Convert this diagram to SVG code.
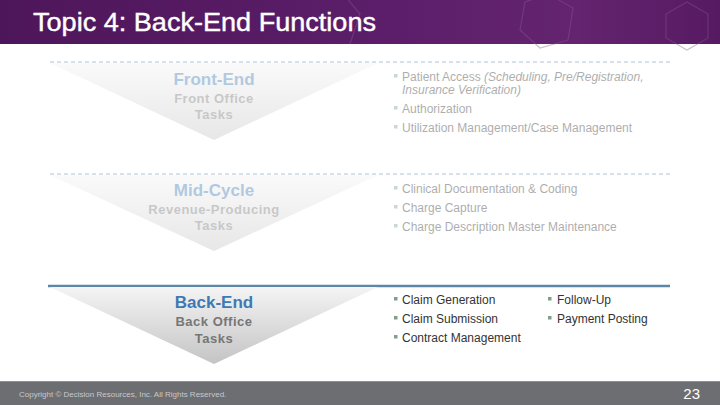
<svg xmlns="http://www.w3.org/2000/svg" width="720" height="405" viewBox="0 0 720 405">
<defs>
<linearGradient id="hdr" x1="0" y1="0" x2="1" y2="0">
<stop offset="0" stop-color="#4e165a"/>
<stop offset="0.55" stop-color="#5c1e6a"/>
<stop offset="0.8" stop-color="#64246f"/>
<stop offset="1" stop-color="#561a62"/>
</linearGradient>
<linearGradient id="tri" x1="0" y1="0" x2="0" y2="1">
<stop offset="0" stop-color="#f4f4f4"/>
<stop offset="1" stop-color="#c4c4c4"/>
</linearGradient>
<style>
.t{font-family:"Liberation Sans",Arial,sans-serif}
.hd{font-size:17px;font-weight:bold;fill:#3d7ab4;text-anchor:middle}
.sub{font-size:13px;font-weight:bold;fill:#767676;text-anchor:middle;letter-spacing:0.5px}
.b{font-size:12px;fill:#333333}
.bl{fill:#7f9f88}
.dash{stroke:#8fa8bd;stroke-width:1.5;stroke-dasharray:4 3}
.hex{fill:none;stroke:#8a5a96;stroke-width:1.2;opacity:0.4}
</style>
</defs>
<rect width="720" height="405" fill="#ffffff"/>
<g id="header">
<rect x="0" y="0" width="720" height="44" fill="url(#hdr)"/>
<polygon class="hex" points="687,2 708,14 708,38 687,50 666,38 666,14"/>
<polygon class="hex" points="548,-6 573,8 568,40 540,48 520,30 525,2"/>
<polyline class="hex" points="345,-4 360,14 350,44"/>
<text class="t" x="33" y="31" font-size="25" fill="#ffffff" stroke="#ffffff" stroke-width="0.4" textLength="343" lengthAdjust="spacingAndGlyphs">Topic 4: Back-End Functions</text>
</g>
<g id="connectors">
<line class="dash" x1="50" y1="62" x2="670" y2="62" opacity="0.45"/>
<line class="dash" x1="50" y1="174" x2="670" y2="174" opacity="0.45"/>
<line x1="48" y1="286" x2="670" y2="286" stroke="#5b87a8" stroke-width="2.5"/>
</g>
<g id="front-end" opacity="0.4">
<polygon points="50,63 378,63 214,140" fill="url(#tri)"/>
<text class="t hd" x="214" y="85">Front-End</text>
<text class="t sub" x="214" y="103">Front Office</text>
<text class="t sub" x="214" y="119">Tasks</text>
</g>
<g id="front-end-tasks" opacity="0.4">
<rect class="bl" x="394" y="74" width="3.5" height="3.5"/>
<text class="t b" x="402" y="81">Patient Access <tspan font-style="italic">(Scheduling, Pre/Registration,</tspan></text>
<text class="t b" x="402" y="94" font-style="italic">Insurance Verification)</text>
<rect class="bl" x="394" y="106" width="3.5" height="3.5"/>
<text class="t b" x="402" y="113">Authorization</text>
<rect class="bl" x="394" y="125" width="3.5" height="3.5"/>
<text class="t b" x="402" y="132">Utilization Management/Case Management</text>
</g>
<g id="mid-cycle" opacity="0.4">
<polygon points="50,175 378,175 214,251" fill="url(#tri)"/>
<text class="t hd" x="214" y="196">Mid-Cycle</text>
<text class="t sub" x="214" y="214">Revenue-Producing</text>
<text class="t sub" x="214" y="230">Tasks</text>
</g>
<g id="mid-cycle-tasks" opacity="0.4">
<rect class="bl" x="394" y="186" width="3.5" height="3.5"/>
<text class="t b" x="402" y="193">Clinical Documentation &amp; Coding</text>
<rect class="bl" x="394" y="205" width="3.5" height="3.5"/>
<text class="t b" x="402" y="212">Charge Capture</text>
<rect class="bl" x="394" y="224" width="3.5" height="3.5"/>
<text class="t b" x="402" y="231">Charge Description Master Maintenance</text>
</g>
<g id="back-end">
<polygon points="50,287 378,287 214,364" fill="url(#tri)"/>
<text class="t hd" x="214" y="308">Back-End</text>
<text class="t sub" x="214" y="326">Back Office</text>
<text class="t sub" x="214" y="343">Tasks</text>
</g>
<g id="back-end-tasks">
<rect class="bl" x="394" y="297" width="3.5" height="3.5"/>
<text class="t b" x="402" y="304">Claim Generation</text>
<rect class="bl" x="394" y="316" width="3.5" height="3.5"/>
<text class="t b" x="402" y="323">Claim Submission</text>
<rect class="bl" x="394" y="335" width="3.5" height="3.5"/>
<text class="t b" x="402" y="342">Contract Management</text>
<rect class="bl" x="548" y="297" width="3.5" height="3.5"/>
<text class="t b" x="557" y="304">Follow-Up</text>
<rect class="bl" x="548" y="316" width="3.5" height="3.5"/>
<text class="t b" x="557" y="323">Payment Posting</text>
</g>
<g id="footer">
<rect x="0" y="381" width="720" height="24" fill="#6d6e71"/>
<line x1="0" y1="381.5" x2="720" y2="381.5" stroke="#8e8f92" stroke-width="1"/>
<text class="t" x="19" y="397" font-size="8" fill="#c8c8ca">Copyright © Decision Resources, Inc. All Rights Reserved.</text>
<text class="t" x="700" y="399" font-size="15" fill="#ffffff" text-anchor="end">23</text>
</g>
</svg>
